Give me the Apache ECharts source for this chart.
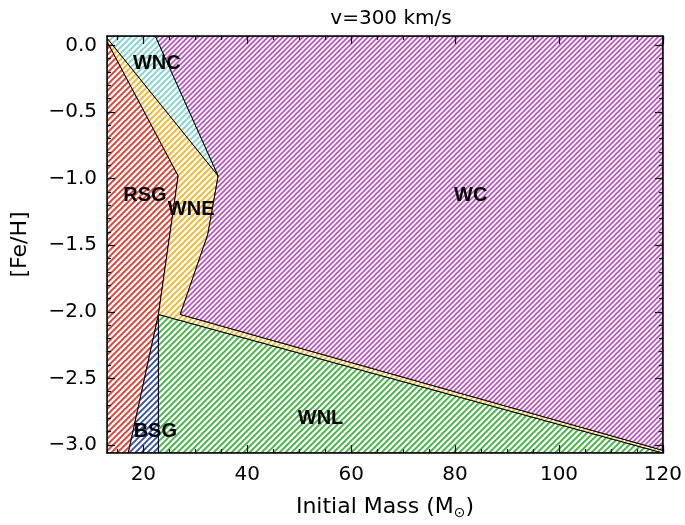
<!DOCTYPE html>
<html><head><meta charset="utf-8">
<script src="https://cdn.jsdelivr.net/npm/echarts@6/dist/echarts.min.js"></script>
<style>html,body{margin:0;padding:0;background:#fff}#c{width:685px;height:525px}</style>
</head><body><div id="c"></div>
<script>
// Axis ranges and ticks
const xRange = [13, 120];
const yRange = [-3.06, 0.07];
const xMajor = [20, 40, 60, 80, 100, 120];
const xMinor = [15, 20, 25, 30, 35, 40, 45, 50, 55, 60, 65, 70, 75, 80, 85, 90, 95, 100, 105, 110, 115, 120];
const yMajor = [0.0, -0.5, -1.0, -1.5, -2.0, -2.5, -3.0];
const yMinor = [0.0, -0.1, -0.2, -0.3, -0.4, -0.5, -0.6, -0.7, -0.8, -0.9, -1.0, -1.1, -1.2, -1.3, -1.4, -1.5, -1.6, -1.7, -1.8, -1.9, -2.0, -2.1, -2.2, -2.3, -2.4, -2.5, -2.6, -2.7, -2.8, -2.9, -3.0];

// Region polygons [mass, [Fe/H]]
const regionRSG = [[13, 0.03], [26.7, -0.98], [22.9, -2.02], [17.1, -3.06], [13, -3.06]];
const regionBSG = [[22.9, -2.02], [22.9, -3.06], [17.1, -3.06]];
const regionWNL = [[22.9, -2.02], [120, -3.06], [22.9, -3.06]];
const regionWNE = [[13, 0.055], [34.4, -0.98], [32.4, -1.42], [27.1, -2.02], [120, -3.04], [120, -3.06], [22.9, -2.02], [26.7, -0.98], [13, 0.03]];
const regionWNC = [[13, 0.07], [22.3, 0.07], [34.4, -0.98], [13, 0.055]];
const regionWC = [[22.3, 0.07], [120, 0.07], [120, -3.04], [27.1, -2.02], [32.4, -1.42], [34.4, -0.98]];

const regionNames = ['RSG', 'BSG', 'WNL', 'WNE', 'WNC', 'WC'];
const regionColors = ['#e8392c', '#3450b2', '#3fb63f', '#f7b526', '#7fd6d0', '#bd4fc4'];
const regionPolys = [regionRSG, regionBSG, regionWNL, regionWNE, regionWNC, regionWC];

// Label positions
const labelNames = ['WNC', 'RSG', 'WNE', 'WC', 'WNL', 'BSG'];
const labelX = [22.6, 20.3, 29.2, 83.0, 54.1, 22.3];
const labelY = [-0.14, -1.13, -1.23, -1.13, -2.80, -2.90];

function makeHatch(color, s, w) {
  const c = document.createElement('canvas');
  c.width = s; c.height = s;
  const g = c.getContext('2d');
  g.fillStyle = '#fff'; g.fillRect(0, 0, s, s);
  g.strokeStyle = color; g.lineWidth = w;
  g.beginPath();
  [0, s, 2 * s].forEach(k => { g.moveTo(k + 1, -1); g.lineTo(k - s - 1, s + 1); });
  g.stroke();
  return c;
}
const patterns = regionColors.map((col, i) => makeHatch(col, i === 5 ? 5 : 6, i === 5 ? 1.6 : 1.9));

const chart = echarts.init(document.getElementById('c'));
const fontTick = 'DejaVu Sans';
const grid = { left: 107, right: 21.5, top: 36, bottom: 71.5 };

function xAx(pos, ticks, len, showLine, showLabel, extra) {
  return Object.assign({
    type: 'value', position: pos, min: xRange[0], max: xRange[1], gridIndex: 0, z: 10,
    axisLine: { show: showLine, onZero: false, lineStyle: { color: '#000', width: 1.5 } },
    axisTick: { show: true, inside: true, length: len, customValues: ticks, lineStyle: { color: '#000', width: 1.2 } },
    axisLabel: { show: showLabel, customValues: xMajor, color: '#000', fontFamily: fontTick, fontSize: 20, margin: 12 },
    splitLine: { show: false }
  }, extra || {});
}
function yAx(pos, ticks, len, showLine, showLabel, extra) {
  return Object.assign({
    type: 'value', position: pos, min: yRange[0], max: yRange[1], gridIndex: 0, z: 10,
    axisLine: { show: showLine, onZero: false, lineStyle: { color: '#000', width: 1.5 } },
    axisTick: { show: true, inside: true, length: len, customValues: ticks, lineStyle: { color: '#000', width: 1.2 } },
    axisLabel: { show: showLabel, customValues: yMajor, color: '#000', fontFamily: fontTick, fontSize: 20, margin: 10,
      formatter: v => (v < -1e-9 ? '\u2212' : '') + Math.abs(v).toFixed(1) },
    splitLine: { show: false }
  }, extra || {});
}

chart.setOption({
  animation: false,
  backgroundColor: '#fff',
  title: { text: 'v=300 km/s', left: 386, top: 4, textAlign: 'center',
    textStyle: { fontFamily: fontTick, fontSize: 20, fontWeight: 'normal', color: '#000' } },
  grid: grid,
  xAxis: [
    xAx('bottom', xMajor, 8, true, true, {
      name: 'Initial Mass (M{sub|\u2299})', nameLocation: 'middle', nameGap: 41,
      nameTextStyle: { fontFamily: fontTick, fontSize: 22, color: '#000',
        rich: { sub: { fontFamily: fontTick, fontSize: 14, color: '#000', padding: [12, 0, 0, 0] } } }
    }),
    xAx('bottom', xMinor, 4, false, false),
    xAx('top', xMajor, 8, true, false),
    xAx('top', xMinor, 4, false, false)
  ],
  yAxis: [
    yAx('left', yMajor, 8, true, true, {
      name: '[Fe/H]', nameLocation: 'middle', nameGap: 76, nameRotate: 90,
      nameTextStyle: { fontFamily: fontTick, fontSize: 22, color: '#000' }
    }),
    yAx('left', yMinor, 4, false, false),
    yAx('right', yMajor, 8, true, false),
    yAx('right', yMinor, 4, false, false)
  ],
  series: [
    {
      type: 'custom', xAxisIndex: 0, yAxisIndex: 0, clip: true, z: 1,
      data: regionNames.map((n, i) => [i]),
      renderItem: function (params, api) {
        const i = api.value(0);
        const pts = regionPolys[i].map(p => api.coord(p));
        return {
          type: 'polygon',
          shape: { points: pts },
          style: { fill: { image: patterns[i], repeat: 'repeat' }, stroke: '#000', lineWidth: 1 }
        };
      }
    },
    {
      type: 'custom', xAxisIndex: 0, yAxisIndex: 0, z: 5, silent: true,
      data: labelNames.map((n, i) => [labelX[i], labelY[i], i]),
      renderItem: function (params, api) {
        const p = api.coord([api.value(0), api.value(1)]);
        return {
          type: 'text',
          x: p[0], y: p[1],
          style: { text: labelNames[api.value(2)], fill: '#000', align: 'center', verticalAlign: 'middle',
            fontFamily: 'Liberation Sans', fontWeight: 'bold', fontSize: 20 }
        };
      }
    }
  ]
});
</script></body></html>
